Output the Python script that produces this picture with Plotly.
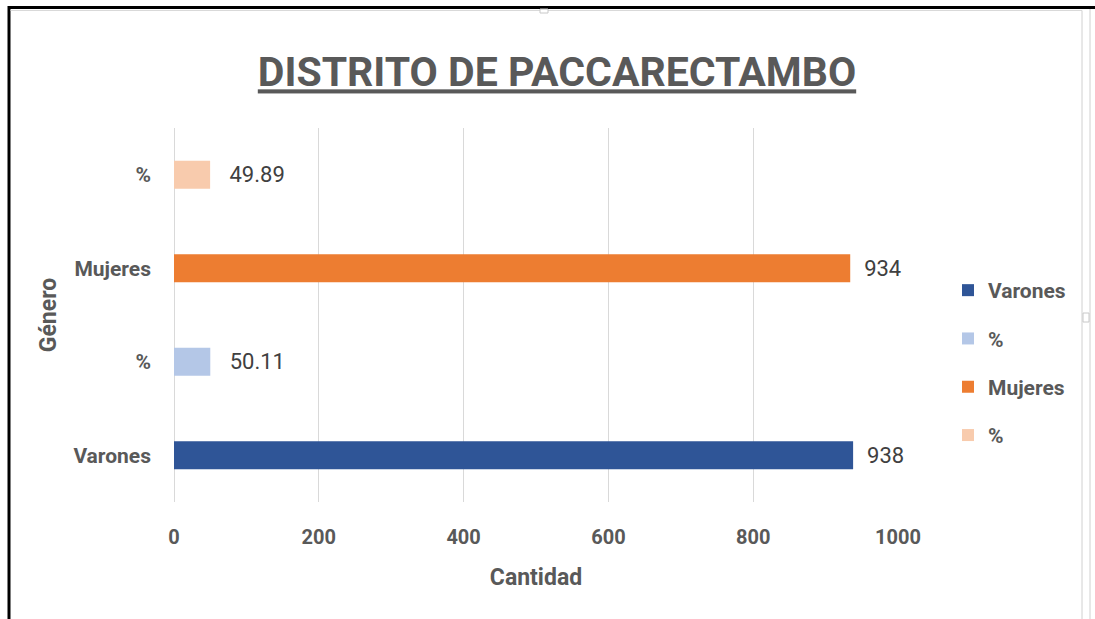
import plotly.graph_objects as go

# ---- data ----
categories = ["Varones", "%", "Mujeres", "%"]
values = [938, 50.11, 934, 49.89]
series_names = ["Varones", "%", "Mujeres", "%"]
bar_colors = ["#2F5597", "#B4C7E7", "#ED7D31", "#F8CBAD"]
x_ticks = [0, 200, 400, 600, 800, 1000]

FONT = "Roboto"
GRAY = "#595959"

# layout geometry (pixels)
W, H = 1095, 619
L, R, T, B = 174, 197, 128, 117
PW, PH = W - L - R, H - T - B


def px(x):
    return (x - L) / PW


def py(y):
    return (H - B - y) / PH


fig = go.Figure()
for i, (name, val, col) in enumerate(zip(series_names, values, bar_colors)):
    pad = "\u00a0\u00a0\u00a0" if val < 100 else "\u00a0\u00a0"
    fig.add_trace(go.Bar(
        y=[i], x=[val], orientation="h", name=name,
        marker=dict(color=col, line=dict(width=0)),
        width=0.3,
        text=[val], texttemplate=pad + "%{x}",
        textposition="outside", cliponaxis=False,
        textfont=dict(family=FONT, size=22, color="#404040"),
        legendgroup="g%d" % i,
    ))

shapes = [
    # frame
    dict(type="line", xref="paper", yref="paper", x0=px(8), x1=px(1095), y0=py(7.5), y1=py(7.5),
         line=dict(color="black", width=3)),
    dict(type="line", xref="paper", yref="paper", x0=px(9), x1=px(9), y0=py(6), y1=py(619),
         line=dict(color="black", width=3)),
    dict(type="line", xref="paper", yref="paper", x0=px(10.5), x1=px(1082), y0=py(10.5), y1=py(10.5),
         line=dict(color="#D9D9D9", width=1)),
    dict(type="line", xref="paper", yref="paper", x0=px(1082), x1=px(1082), y0=py(10.5), y1=py(619),
         line=dict(color="#D0D0D0", width=1)),
    dict(type="line", xref="paper", yref="paper", x0=px(1090), x1=px(1090), y0=py(9), y1=py(619),
         line=dict(color="#D0D0D0", width=1)),
    dict(type="rect", xref="paper", yref="paper", x0=px(540), x1=px(548), y0=py(9), y1=py(13),
         line=dict(color="#C8C8C8", width=1), fillcolor="white"),
    dict(type="rect", xref="paper", yref="paper", x0=px(1083), x1=px(1089), y0=py(313), y1=py(322),
         line=dict(color="#C8C8C8", width=1), fillcolor="white"),
]

fig.update_layout(
    width=W, height=H,
    margin=dict(l=L, r=R, t=T, b=B),
    paper_bgcolor="white", plot_bgcolor="white",
    barmode="overlay",
    title=dict(
        text="<u>DISTRITO DE PACCARECTAMBO</u>",
        font=dict(family=FONT, size=41, color=GRAY, weight="bold"),
        x=px(557), xref="paper", xanchor="center",
        y=1 - 72 / H, yref="container", yanchor="middle",
    ),
    xaxis=dict(
        range=[0, 1000], tickvals=x_ticks, showgrid=True, gridcolor="#D9D9D9", gridwidth=1,
        zeroline=True, zerolinecolor="#D9D9D9", zerolinewidth=1, showline=False,
        tickfont=dict(family=FONT, size=20, color=GRAY, weight="bold"),
        ticklabelstandoff=21,
        title=dict(text="Cantidad", font=dict(family=FONT, size=23, color=GRAY, weight="bold"),
                   standoff=20),
    ),
    yaxis=dict(
        range=[-0.5, 3.5], tickvals=list(range(len(categories))), ticktext=categories,
        showgrid=False, zeroline=False, showline=False,
        tickfont=dict(family=FONT, size=21, color=GRAY, weight="bold"),
        ticklabelstandoff=22,
        title=dict(text="Género", font=dict(family=FONT, size=23, color=GRAY, weight="bold"),
                   standoff=10),
    ),
    legend=dict(
        x=px(948), xanchor="left", y=py(363), yanchor="middle",
        font=dict(family=FONT, size=21, color=GRAY, weight="bold"),
        traceorder="grouped", tracegroupgap=18, bgcolor="rgba(0,0,0,0)",
    ),
    shapes=shapes,
    bargap=0.7,
)

fig.write_html("out.html", config={"displayModeBar": False},
               post_script="document.body.style.margin='0';")
